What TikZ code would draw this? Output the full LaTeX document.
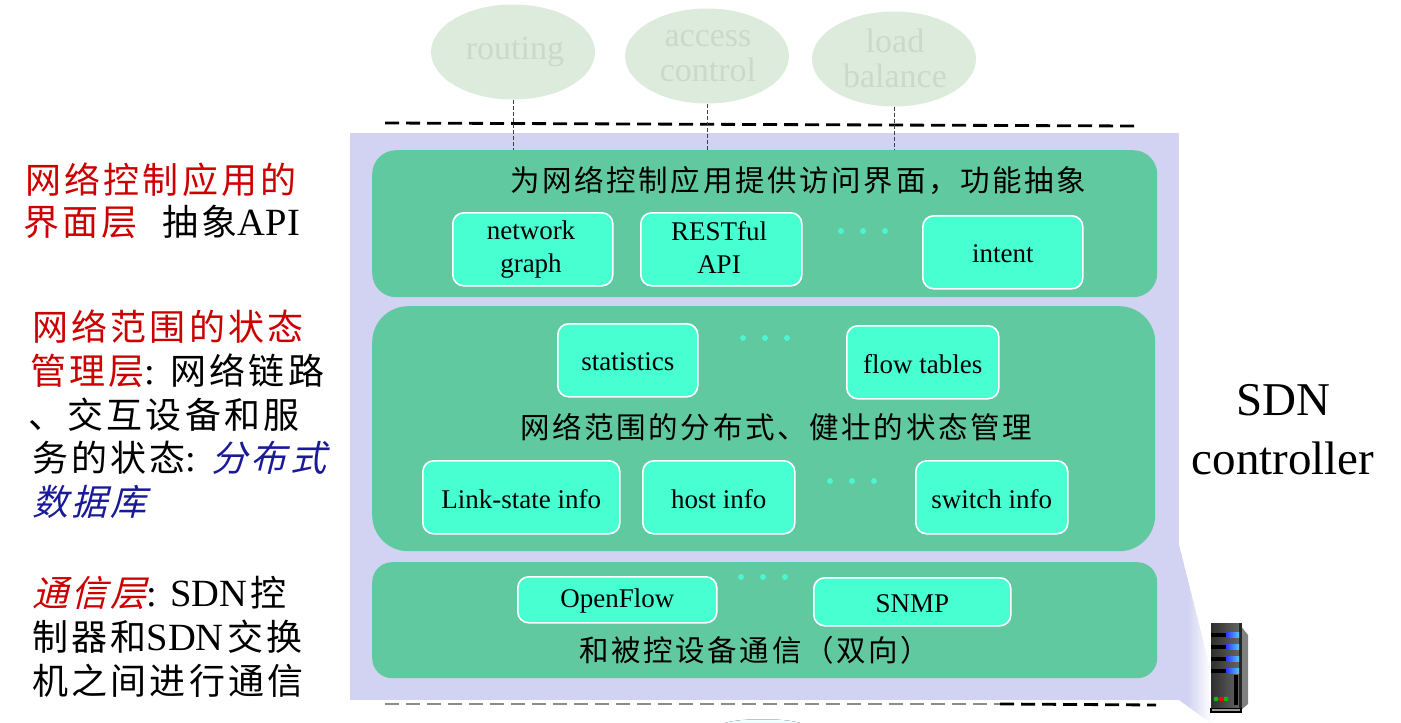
\documentclass[tikz,border=0pt]{standalone}
\usepackage{fontspec}
\usetikzlibrary{shapes.geometric}
\setmainfont{Liberation Serif}
\newfontfamily\cjkf[LetterSpace=9]{Noto Sans CJK SC}
\newfontfamily\cjki[LetterSpace=9,FakeSlant=0.25]{Noto Sans CJK SC}
\definecolor{lav}{HTML}{D2D2F2}
\definecolor{pan}{HTML}{60C9A0}
\definecolor{cell}{HTML}{48FFD2}
\definecolor{pale}{HTML}{DCEBDC}
\definecolor{paletext}{HTML}{C9D9CA}
\definecolor{redt}{HTML}{CC0000}
\definecolor{bluet}{HTML}{1A1A99}
\definecolor{dotc}{HTML}{4CF5D0}
\newcommand{\sz}[1]{\fontsize{#1}{#1}\selectfont}
\newcommand{\rd}[1]{\textcolor{redt}{#1}}
\newcommand{\la}[1]{{\rmfamily\sz{38.5}#1}}
\tikzset{
 x=1pt,y=-1pt,
 panel/.style={fill=pan,draw=none},
 cellbox/.style={fill=cell,draw=white,line width=1.6pt,rounded corners=11pt},
 celltext/.style={inner sep=0,align=center,font=\sz{27},text=black,yshift=-1.5pt},
 appnode/.style={ellipse,fill=pale,draw=none,minimum width=164pt,minimum height=95pt,inner sep=0},
 applabel/.style={inner sep=0,align=center,font=\sz{34},text=paletext},
 sidetext/.style={inner sep=0,anchor=west,font={\sz{36}\cjkf}},
 paneltext/.style={inner sep=0,anchor=west,font={\sz{29.5}\cjkf}},
 conn/.style={draw=black!75,dash pattern=on 4pt off 2pt,line width=.6pt},
 thickdash/.style={draw=black,line width=2.8pt,dash pattern=on 14pt off 7pt},
 dotm/.style={circle,fill=dotc,inner sep=0,minimum size=6pt},
}
\begin{document}
\begin{tikzpicture}
\useasboundingbox (0,0) rectangle (1401,723);
\begin{scope}
\clip (0,0) rectangle (1401,723);
\fill[top color=white,bottom color=cyan!12] (725,723) .. controls (740,718) and (785,718) .. (800,723) -- cycle;
\end{scope}
% funnel towards the server, fading out
\begin{scope}
\clip (1179,545) -- (1211,672) -- (1211,723) -- (1179,700) -- cycle;
\foreach \k in {0,...,15}{
 \pgfmathsetmacro{\mixv}{\k<4 ? 100 : 100-(\k-4)*8.5}
 \fill[lav!\mixv!white] (1179+2*\k,540) rectangle (1182+2*\k,723);
}
\end{scope}
\fill[lav] (350,133) rectangle (1179,700);
% thick dashes
\coordinate (dashA) at (385,123);
\coordinate (dashB) at (1136,126);
\draw[thickdash] (dashA) -- (dashB);
\coordinate (dashC) at (385,704);
\coordinate (dashD) at (1000,704);
\coordinate (dashE) at (1156,705);
\draw[draw=black!45,line width=2pt,dash pattern=on 14pt off 7pt] (dashC) -- (dashD);
\draw[thickdash] (dashD) -- (dashE);
% panels
\node[panel,rounded corners=24pt,inner sep=0,minimum width=785pt,minimum height=147pt,anchor=north west] (p1) at (372,150) {};
\node[panel,rounded corners=36pt,inner sep=0,minimum width=783pt,minimum height=245pt,anchor=north west] (p2) at (372,306) {};
\node[panel,rounded corners=20pt,inner sep=0,minimum width=785pt,minimum height=116pt,anchor=north west] (p3) at (372,562) {};
% apps
\node[appnode] (routing) at (513,52) {};
\node[appnode] (access) at (707,56) {};
\node[appnode] (load) at (894,59) {};
\node[applabel] (t1) at (515,52) {routing};
\node[applabel] (t2) at (708,56) {access\\[1pt]control};
\node[applabel] (t3) at (895,58) {load\\[1pt]balance};
\draw[conn] (routing.south) -- (routing.south |- p1.north);
\draw[conn] (access.south) -- (access.south |- p1.north);
\draw[conn] (load.south) -- (load.south |- p1.north);
% cells
\newcommand{\cellat}[6]{\node[cellbox,inner sep=0,minimum width=#4 pt - #2 pt - 1pt,minimum height=#5 pt - #3 pt,anchor=north west] (#1) at (#2,#3) {};}
\cellat{nw}{452}{212}{613}{285}{}
\cellat{rest}{640}{212}{802}{285}{}
\cellat{intent}{922}{215}{1083}{288}{}
\cellat{stat}{557}{323}{698}{396}{}
\cellat{flow}{846}{325}{999}{398}{}
\cellat{link}{422}{460}{620}{533}{}
\cellat{host}{642}{460}{795}{533}{}
\cellat{switch}{915}{460}{1068}{533}{}
\cellat{of}{517}{576}{717}{622}{}
\cellat{snmp}{813}{577}{1011}{625}{}
\node[celltext] (nwt) at (531,248) {network\\[6pt]graph};
\node[celltext] (restt) at (719,246) {RESTful\\[6pt]API};
\node[celltext] at (intent.center) {intent};
\node[celltext] at (stat.center) {statistics};
\node[celltext] at (flow.center) {flow tables};
\node[celltext] at (link.center) {Link-state info};
\node[celltext] at (host.center) {host info};
\node[celltext] at (switch.center) {switch info};
\node[celltext] at (of.center) {OpenFlow};
\node[celltext] at (snmp.center) {SNMP};
% dots
\foreach \i/\dx/\dy in {a/841/231,b/863/231,c/885/231,d/743/338,e/765/338,f/787/338,g/830/481,h/852/481,i/874/481,j/741/577,k/763/577,l/785/577}{
 \node[dotm] (dot\i) at (\dx,\dy) {};
}
% panel captions
\node[paneltext] (c1) at (510,180) {为网络控制应用提供访问界面\symbol{"FF0C}功能抽象};
\node[paneltext] (c2) at (520,427) {网络范围的分布式、健壮的状态管理};
\node[paneltext] (c3) at (579,650) {和被控设备通信\symbol{"FF08}双向\symbol{"FF09}};
% side texts
\node[sidetext] (s1) at (25,180) {\rd{网络控制应用的}};
\node[sidetext] (s2) at (23,222) {\rd{界面层}\hspace{25pt}抽象\la{API}};
\node[sidetext] (s3) at (32,327) {\rd{网络范围的状态}};
\node[sidetext] (s4) at (30,371) {\rd{管理层}\la{:} 网络链路};
\node[sidetext] (s5) at (28,415) {、交互设备和服};
\node[sidetext] (s6) at (32,458) {务的状态\la{:} \textcolor{bluet}{\cjki 分布式}};
\node[sidetext] (s7) at (32,502) {\textcolor{bluet}{\cjki 数据库}};
\node[sidetext] (s8) at (32,593) {\textcolor{redt}{\cjki 通信层}\la{: SDN}\hspace{3pt}控};
\node[sidetext] (s9) at (32,637) {制器和\la{SDN}\hspace{4pt}交换};
\node[sidetext] (s10) at (32,681) {机之间进行通信};
\node[inner sep=0,align=center,font=\sz{47}] (sdn) at (1283,430) {SDN\\[12pt]controller};
% server icon
\fill[black!50] (1240,625) -- (1248,635) -- (1248,704) -- (1240,711) -- cycle;
\shade[left color=black!82,right color=black!60] (1211,623) rectangle (1240,711);
\fill[black!85] (1239,623) rectangle (1242,711);
\foreach \yy in {635,647,659,671}{
 \fill[black] (1210.5,\yy-1.7) rectangle (1232,\yy+1.7);
 \fill[left color=blue!80,right color=blue!30!cyan!70] (1226,\yy-2.5) rectangle (1239,\yy+2.2);
}
\fill[black] (1234,675) rectangle (1238,705);
\fill[green!75!black] (1216,699) circle (2.4pt);
\fill[red] (1221,699) circle (2.4pt);
\fill[green!75!black] (1226,699) circle (2.4pt);
\fill[black] (1210,707.5) rectangle (1242,712.5);
\fill[black!40] (1212,709) rectangle (1240,710.5);
\end{tikzpicture}
\end{document}
